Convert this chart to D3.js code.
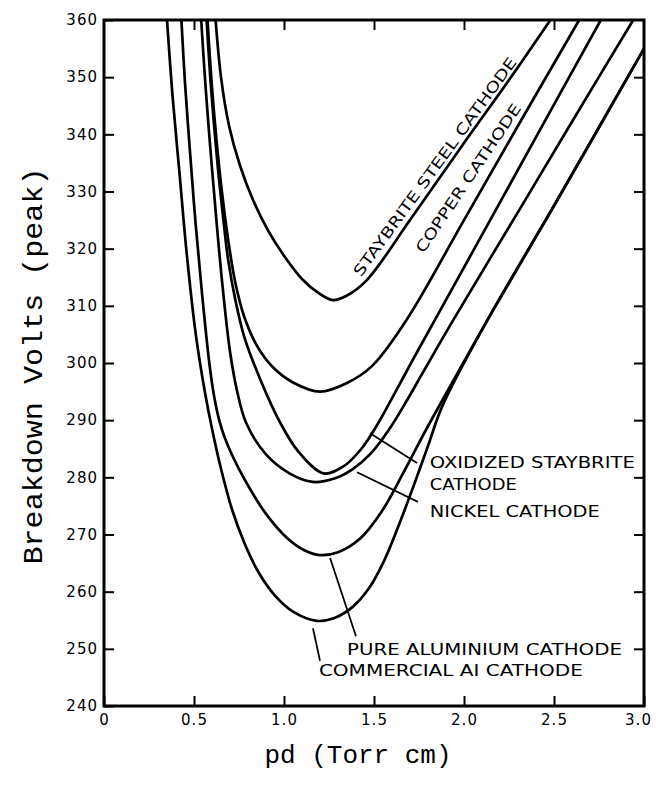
<!DOCTYPE html>
<html>
<head>
<meta charset="utf-8">
<script src="https://cdn.jsdelivr.net/npm/d3@7"></script>
<style>
body { margin: 0; background: #fff; }
svg { display: block; }
</style>
</head>
<body>
<div id="chart"></div>
<script>
const width = 656, height = 786;

// axis ticks
const xTicks = [0, 0.5, 1, 1.5, 2, 2.5, 3];
const xTickLabels = ["0", "0.5", "1.0", "1.5", "2.0", "2.5", "3.0"];
const yTicks = [240, 250, 260, 270, 280, 290, 300, 310, 320, 330, 340, 350, 360];

// curves: [pd (Torr cm), breakdown volts]
const staybriteSteel = [[0.62,360],[0.65,350],[0.694,341.6],[0.756,334.5],[0.828,328.5],[0.911,323.2],
  [1.006,318.5],[1.10,314.7],[1.189,312.3],[1.272,311],[1.35,311.8],[1.46,314.5],[1.70,325],[2.00,338.5],
  [2.25,349.5],[2.48,360]];
const copper = [[0.575,360],[0.598,349],[0.625,339],[0.655,330],[0.69,321.5],[0.73,314],[0.78,308],
  [0.85,303],[0.94,299.2],[1.05,296.6],[1.20,295],[1.35,296.5],[1.49,299.5],[1.68,307.5],[2.00,325],
  [2.30,341.5],[2.64,360]];
const oxidizedStaybrite = [[0.57,360],[0.595,348],[0.63,335],[0.66,326],[0.69,318],[0.73,311],[0.78,304.5],
  [0.87,297],[0.98,289.5],[1.08,284.5],[1.22,280.7],[1.33,281.9],[1.43,285],[1.52,289.3],[1.62,295],
  [1.72,300.8],[1.82,306.5],[2.10,322.4],[2.40,339.5],[2.76,360]];
const nickel = [[0.54,360],[0.565,348],[0.60,334],[0.63,323],[0.66,313],[0.70,302],[0.74,295],[0.79,289.5],
  [0.90,284],[1.03,280.7],[1.16,279.2],[1.28,279.8],[1.38,281.4],[1.48,284.1],[1.58,288.2],[1.68,293.3],
  [1.78,298.8],[1.94,307.5],[2.30,326.4],[2.60,342.2],[2.94,360]];
const pureAluminium = [[0.43,360],[0.45,349],[0.48,336],[0.51,324],[0.545,312],[0.585,300],[0.61,294.5],
  [0.64,290],[0.67,287],[0.71,284],[0.78,279.7],[0.90,273.6],[1.02,269.3],[1.11,267.3],[1.20,266.4],
  [1.30,266.9],[1.42,269.2],[1.54,273.9],[1.66,280.6],[1.78,287.8],[1.88,293.5],[2.13,307.5],[2.50,327.5],
  [3.00,355]];
const commercialAl = [[0.35,360],[0.38,347],[0.42,333],[0.46,319],[0.51,305],[0.56,295],[0.60,288.5],
  [0.65,281.5],[0.71,274.5],[0.78,268.5],[0.86,263.3],[0.95,259.3],[1.05,256.5],[1.18,254.9],[1.28,255.4],
  [1.38,257.3],[1.47,260.5],[1.55,265],[1.63,271],[1.72,278.5],[1.80,285.5],[1.88,292.5],[2.13,307.5],
  [2.50,327.5],[3.00,355]];

const curves = [staybriteSteel, copper, oxidizedStaybrite, nickel, pureAluminium, commercialAl];

// labels, in data units (pd, volts)
const rotatedLabels = [
  {text: "STAYBRITE STEEL CATHODE", pd: 1.84, v: 334.3, angle: -54, len: 266},
  {text: "COPPER CATHODE", pd: 2.025, v: 332.3, angle: -56, len: 176}
];
const flatLabels = [
  {text: "OXIDIZED STAYBRITE", pd: 1.81, v: 281.6, len: 205},
  {text: "CATHODE", pd: 1.81, v: 277.8, len: 87},
  {text: "NICKEL CATHODE", pd: 1.81, v: 273.0, len: 170},
  {text: "PURE ALUMINIUM CATHODE", pd: 1.35, v: 248.9, len: 275},
  {text: "COMMERCIAL AI CATHODE", pd: 1.194, v: 245.2, len: 264}
];
// leader lines [pd1, v1, pd2, v2]
const leaders = [
  [1.478, 287.7, 1.739, 282.5],
  [1.406, 280.9, 1.744, 275.7],
  [1.256, 265.9, 1.40, 252.2],
  [1.161, 253.6, 1.20, 247.9]
];

const x = d3.scaleLinear().domain([0, 3]).range([104, 644]);
const y = d3.scaleLinear().domain([240, 360]).range([706, 20]);

const svg = d3.select("#chart").append("svg")
  .attr("width", width)
  .attr("height", height);

svg.append("defs").append("clipPath").attr("id", "plot")
  .append("rect")
  .attr("x", x(0)).attr("y", y(360))
  .attr("width", x(3) - x(0)).attr("height", y(240) - y(360));

const tickFont = "'DejaVu Sans', sans-serif";

function styleAxis(g) {
  g.select(".domain").remove();
  g.selectAll(".tick line").attr("stroke", "#000").attr("stroke-width", 2);
  g.selectAll(".tick text").attr("fill", "#000")
    .style("font-family", tickFont).style("font-size", "15px")
    .style("letter-spacing", "1px");
}

svg.append("g")
  .attr("transform", `translate(0,${y(240)})`)
  .call(d3.axisBottom(x).tickValues(xTicks).tickFormat((d, i) => xTickLabels[i])
    .tickSizeInner(-10).tickSizeOuter(0).tickPadding(8))
  .call(styleAxis)
  .call(g => g.selectAll(".tick:last-of-type text").attr("dx", "-6"));

svg.append("g")
  .attr("transform", `translate(${x(0)},0)`)
  .call(d3.axisLeft(y).tickValues(yTicks).tickFormat(d3.format("d"))
    .tickSizeInner(-10).tickSizeOuter(0).tickPadding(6))
  .call(styleAxis);

svg.append("g")
  .attr("transform", `translate(0,${y(360)})`)
  .call(d3.axisTop(x).tickValues(xTicks.slice(1, -1)).tickFormat("")
    .tickSizeInner(-10).tickSizeOuter(0))
  .call(styleAxis);

svg.append("g")
  .attr("transform", `translate(${x(3)},0)`)
  .call(d3.axisRight(y).tickValues(yTicks.slice(1, -1)).tickFormat("")
    .tickSizeInner(-10).tickSizeOuter(0))
  .call(styleAxis);

// frame
svg.append("rect")
  .attr("x", x(0)).attr("y", y(360))
  .attr("width", x(3) - x(0)).attr("height", y(240) - y(360))
  .attr("fill", "none").attr("stroke", "#000").attr("stroke-width", 3);

const line = d3.line()
  .x(d => x(d[0]))
  .y(d => y(d[1]))
  .curve(d3.curveCatmullRom.alpha(0.5));

svg.append("g")
  .attr("clip-path", "url(#plot)")
  .selectAll("path")
  .data(curves)
  .enter().append("path")
    .attr("d", line)
    .attr("fill", "none")
    .attr("stroke", "#000")
    .attr("stroke-width", 2.7)
    .attr("stroke-linejoin", "round")
    .attr("stroke-linecap", "round");

svg.append("g")
  .selectAll("line")
  .data(leaders)
  .enter().append("line")
    .attr("x1", d => x(d[0])).attr("y1", d => y(d[1]))
    .attr("x2", d => x(d[2])).attr("y2", d => y(d[3]))
    .attr("stroke", "#000").attr("stroke-width", 1.8);

svg.append("g")
  .selectAll("text")
  .data(flatLabels)
  .enter().append("text")
    .attr("x", d => x(d.pd)).attr("y", d => y(d.v))
    .attr("textLength", d => d.len)
    .attr("lengthAdjust", "spacingAndGlyphs")
    .style("font-family", tickFont).style("font-size", "15px")
    .text(d => d.text);

svg.append("g")
  .selectAll("text")
  .data(rotatedLabels)
  .enter().append("text")
    .attr("transform", d => `translate(${x(d.pd)},${y(d.v)}) rotate(${d.angle})`)
    .attr("text-anchor", "middle")
    .attr("dominant-baseline", "central")
    .attr("textLength", d => d.len)
    .attr("lengthAdjust", "spacingAndGlyphs")
    .style("font-family", tickFont).style("font-size", "15px")
    .text(d => d.text);

// axis titles
svg.append("text")
  .attr("x", 358).attr("y", 763)
  .attr("text-anchor", "middle")
  .attr("textLength", 187).attr("lengthAdjust", "spacingAndGlyphs")
  .style("font-family", "'Liberation Mono', monospace").style("font-size", "26px")
  .text("pd (Torr cm)");

svg.append("text")
  .attr("transform", "translate(42,366) rotate(-90)")
  .attr("text-anchor", "middle")
  .attr("textLength", 397).attr("lengthAdjust", "spacingAndGlyphs")
  .style("font-family", "'Liberation Mono', monospace").style("font-size", "28px")
  .text("Breakdown Volts (peak)");
</script>
</body>
</html>
